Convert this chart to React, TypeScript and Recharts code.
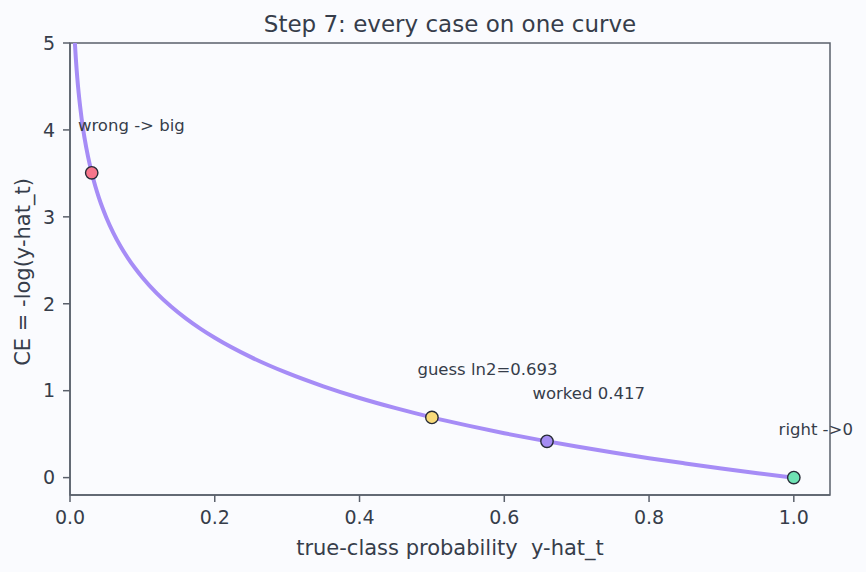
import React from "react";
import { ComposedChart, Line, Scatter, XAxis, YAxis, ReferenceArea } from "recharts";

// Sampled cross-entropy curve: true-class probability and CE = -ln(p)
const probGrid = [
  0.00674, 0.008, 0.009, 0.01, 0.012, 0.014, 0.016, 0.018, 0.02, 0.025, 0.03,
  0.035, 0.04, 0.045, 0.05, 0.06, 0.07, 0.08, 0.09, 0.1, 0.12, 0.14, 0.16,
  0.18, 0.2, 0.25, 0.3, 0.35, 0.4, 0.45, 0.5, 0.55, 0.6, 0.65, 0.7, 0.75, 0.8,
  0.85, 0.9, 0.95, 1.0,
];
const ceGrid = [
  5.0, 4.828, 4.711, 4.605, 4.423, 4.269, 4.135, 4.017, 3.912, 3.689, 3.507,
  3.352, 3.219, 3.101, 2.996, 2.813, 2.659, 2.526, 2.408, 2.303, 2.12, 1.966,
  1.833, 1.715, 1.609, 1.386, 1.204, 1.05, 0.916, 0.799, 0.693, 0.598, 0.511,
  0.431, 0.357, 0.288, 0.223, 0.163, 0.105, 0.051, 0.0,
];

// Highlighted cases on the curve
const caseProbs = [0.03, 0.5, 0.659, 1.0];
const caseLosses = [3.507, 0.693, 0.417, 0.0];
const caseColors = ["#f7768b", "#f8da7a", "#a48cf2", "#6fe3b4"];

// Annotation text and anchor positions (data coordinates, left edge / middle)
const noteTexts = ["wrong -> big", "guess ln2=0.693", "worked 0.417", "right ->0"];
const noteProbs = [0.011, 0.48, 0.639, 0.979];
const noteLosses = [4.056, 1.248, 0.972, 0.556];

const xTicks = [0, 0.2, 0.4, 0.6, 0.8, 1.0];
const yTicks = [0, 1, 2, 3, 4, 5];
const xDomain: [number, number] = [0, 1.05];
const yDomain: [number, number] = [-0.2, 5];

const curveData = probGrid.map((p, i) => ({ p, ce: ceGrid[i] }));
const caseData = caseProbs.map((p, i) => ({ p, ce: caseLosses[i], color: caseColors[i] }));
const noteData = noteTexts.map((text, i) => ({ p: noteProbs[i], ce: noteLosses[i], text }));

const W = 866;
const H = 572;
const FONT = "'DejaVu Sans', sans-serif";
const TEXT = "#363d4a";
const AXIS = "#5a606b";
const BG = "#fafbfe";

const CaseDot = (props: any) => {
  const { cx, cy, payload } = props;
  if (cx == null || cy == null) return null;
  return <circle cx={cx} cy={cy} r={6.2} fill={payload.color} stroke="#262b36" strokeWidth={1.4} />;
};

const NoteText = (props: any) => {
  const { cx, cy, payload } = props;
  if (cx == null || cy == null) return null;
  return (
    <text x={cx} y={cy} dominantBaseline="central" textAnchor="start" fontSize={16.5} fill={TEXT} fontFamily={FONT}>
      {payload.text}
    </text>
  );
};

export default function App() {
  return (
    <div style={{ position: "fixed", left: 0, top: 0, width: W, height: H, background: BG }}>
      <ComposedChart width={W} height={H} margin={{ top: 43, right: 36, bottom: 0, left: 0 }}>
        <XAxis
          type="number"
          dataKey="p"
          domain={xDomain}
          ticks={xTicks}
          tickFormatter={(v: number) => v.toFixed(1)}
          height={77}
          tickSize={7}
          tickMargin={9}
          stroke={AXIS}
          strokeWidth={1.5}
          tick={{ fill: TEXT, fontSize: 19, fontFamily: FONT }}
          allowDecimals
        />
        <YAxis
          type="number"
          dataKey="ce"
          domain={yDomain}
          ticks={yTicks}
          width={70}
          tickSize={7}
          tickMargin={8}
          stroke={AXIS}
          strokeWidth={1.5}
          tick={{ fill: TEXT, fontSize: 19, fontFamily: FONT }}
        />
        {/* plot frame */}
        <ReferenceArea
          x1={xDomain[0]}
          x2={xDomain[1]}
          y1={yDomain[0]}
          y2={yDomain[1]}
          fill="none"
          fillOpacity={0}
          stroke={AXIS}
          strokeWidth={1.5}
          ifOverflow="visible"
        />
        <Line
          data={curveData}
          dataKey="ce"
          type="monotone"
          stroke="#a68cf6"
          strokeWidth={4}
          dot={false}
          activeDot={false}
          isAnimationActive={false}
        />
        <Scatter data={caseData} dataKey="ce" shape={<CaseDot />} isAnimationActive={false} />
        <Scatter data={noteData} dataKey="ce" shape={<NoteText />} isAnimationActive={false} />
        <text x={450} y={32} textAnchor="middle" fontSize={23} fill={TEXT} fontFamily={FONT}>
          Step 7: every case on one curve
        </text>
        <text
          x={450}
          y={555}
          textAnchor="middle"
          fontSize={21}
          fill={TEXT}
          fontFamily={FONT}
          style={{ whiteSpace: "pre" }}
        >
          {"true-class probability  y-hat_t"}
        </text>
        <text
          x={23}
          y={272}
          textAnchor="middle"
          dominantBaseline="central"
          transform="rotate(-90 23 272)"
          fontSize={21}
          fill={TEXT}
          fontFamily={FONT}
        >
          CE = -log(y-hat_t)
        </text>
      </ComposedChart>
    </div>
  );
}
